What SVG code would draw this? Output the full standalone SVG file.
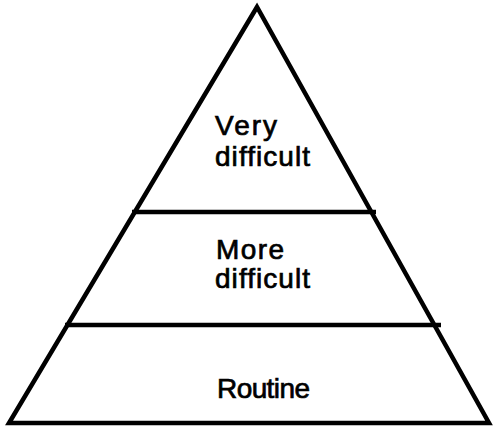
<svg xmlns="http://www.w3.org/2000/svg" width="496" height="429" viewBox="0 0 496 429">
<style>
.ln{fill:none;stroke:#000;stroke-width:4.5;stroke-linejoin:miter}
.t{font-family:"Liberation Sans",Arial,sans-serif;font-size:28px;fill:#000;stroke:#000;stroke-width:0.7}
</style>
<rect width="496" height="429" fill="#fff"/>
<g id="connectors">
<polygon class="ln" points="257,7 9,423 489,423"/>
<line class="ln" x1="132" y1="212" x2="376" y2="212"/>
<line class="ln" x1="65" y1="325" x2="441" y2="325"/>
</g>
<g id="top"><text class="t" x="215" y="135" textLength="62">Very</text><text class="t" x="215" y="166" textLength="95">difficult</text></g>
<g id="middle"><text class="t" x="216" y="259" textLength="68">More</text><text class="t" x="215" y="288" textLength="95">difficult</text></g>
<g id="bottom"><text class="t" x="217" y="398" textLength="93">Routine</text></g>
</svg>
